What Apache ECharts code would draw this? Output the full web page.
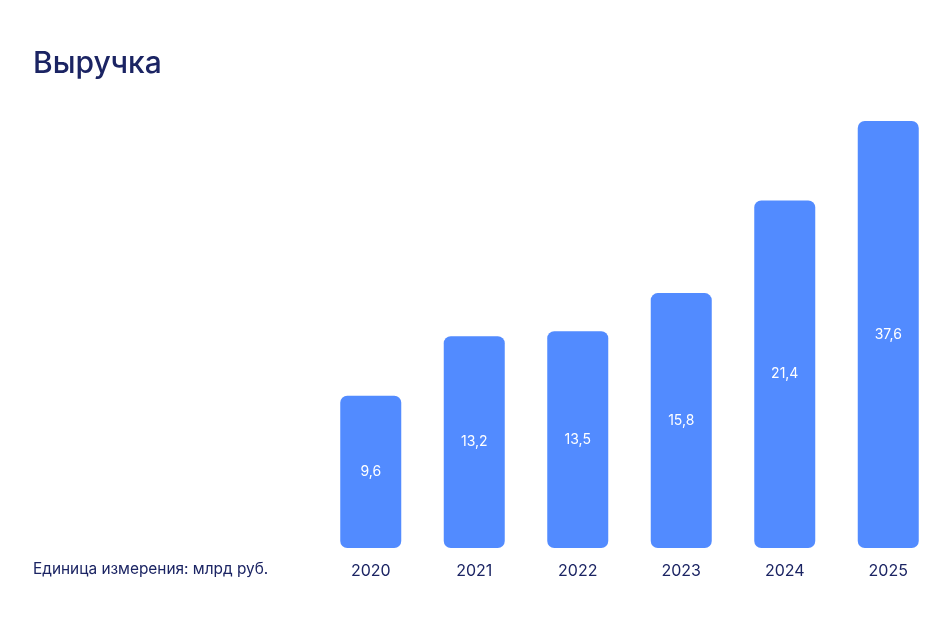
<!DOCTYPE html>
<html>
<head>
<meta charset="utf-8">
<script src="https://cdn.jsdelivr.net/npm/echarts@6/dist/echarts.min.js"></script>
<style>
html,body{margin:0;padding:0;background:#fff;}
#c{width:952px;height:620px;}
</style>
</head>
<body>
<div id="c"></div>
<script>
const years = ['2020', '2021', '2022', '2023', '2024', '2025'];
const revenue = [9.6, 13.2, 13.5, 15.8, 21.4, 37.6];
const titleText = 'Выручка';
const unitText = 'Единица измерения: млрд руб.';

const navy = '#1b2463';
const chart = echarts.init(document.getElementById('c'));
chart.setOption({
  backgroundColor: '#ffffff',
  animation: false,
  title: {
    text: titleText,
    left: 28,
    top: 44,
    textStyle: { fontFamily: 'Inter', fontSize: 30, fontWeight: 500, color: navy }
  },
  graphic: [{
    type: 'text',
    left: 33,
    top: 562,
    style: { text: unitText, fontFamily: 'Inter', fontSize: 15.4, fill: navy }
  }],
  grid: { left: 319, right: 12, top: 121, bottom: 72, containLabel: false },
  xAxis: {
    type: 'category',
    data: years,
    axisLine: { show: false },
    axisTick: { show: false },
    axisLabel: { color: navy, fontFamily: 'Inter', fontSize: 16, margin: 15 }
  },
  yAxis: {
    type: 'value',
    min: 0.4,
    max: 26.2,
    show: false,
    splitLine: { show: false }
  },
  series: [{
    type: 'bar',
    data: revenue,
    barWidth: 61,
    clip: true,
    itemStyle: { color: '#528bff', borderRadius: 7 },
    label: {
      show: true,
      position: 'inside',
      color: '#ffffff',
      fontFamily: 'Inter',
      fontSize: 14,
      formatter: p => String(p.value).replace('.', ',')
    }
  }]
});
</script>
</body>
</html>
